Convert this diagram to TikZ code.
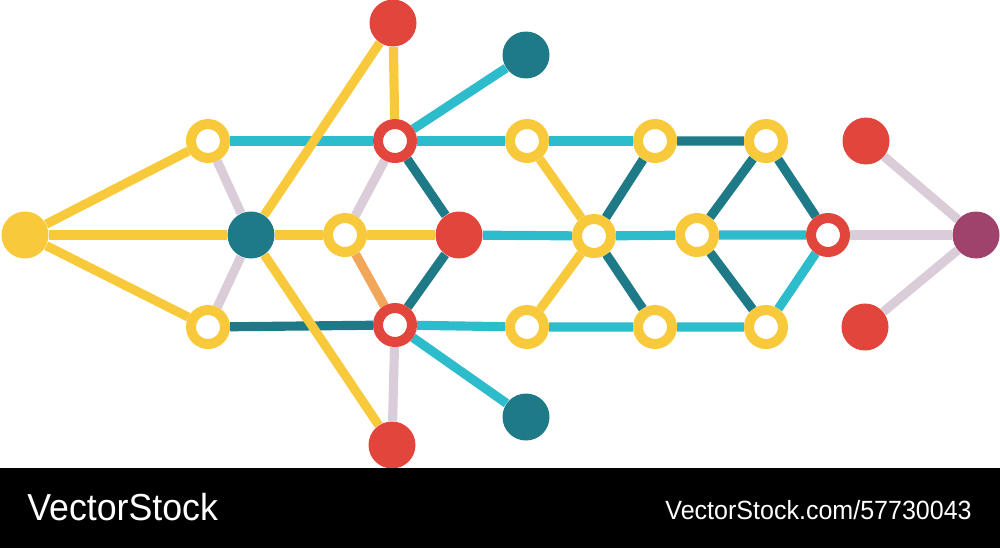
\documentclass[tikz,border=0pt]{standalone}
\usepackage{fontspec}
\newfontfamily\barfont[FakeStretch=0.95]{Liberation Sans}
\usetikzlibrary{backgrounds}
\definecolor{sun}{HTML}{F9C93C}
\definecolor{tomato}{HTML}{E2453B}
\definecolor{petrol}{HTML}{1E7A87}
\definecolor{aqua}{HTML}{2DBCCB}
\definecolor{lilac}{HTML}{DACCD8}
\definecolor{apricot}{HTML}{F2A65A}
\definecolor{plum}{HTML}{A0436C}
\begin{document}
\begin{tikzpicture}[x=0.02cm,y=-0.02cm,
  ring/.style={circle,draw=#1,line width=5.7pt,fill=white,minimum size=0.68cm,inner sep=0pt},
  dot/.style={circle,fill=#1,minimum size=0.94cm,inner sep=0pt},
  link/.style={line width=5.2pt,draw=#1}]
\useasboundingbox (0,0) rectangle (1000,548);
% nodes
\node[dot=sun] (start) at (25,235) {};
\node[ring=sun] (ua) at (208,141) {};
\node[ring=sun] (la) at (208,327) {};
\node[dot=petrol] (hub) at (251,235) {};
\node[ring=sun] (mid) at (345,235) {};
\node[dot=tomato] (topr) at (393,23) {};
\node[ring=tomato] (ur) at (395,141) {};
\node[ring=tomato] (lr) at (395,325) {};
\node[dot=tomato] (botr) at (392,445) {};
\node[dot=tomato] (cr) at (459,235) {};
\node[dot=petrol] (topt) at (526,55) {};
\node[dot=petrol] (bott) at (526,417) {};
\node[ring=sun] (ub) at (527,141) {};
\node[ring=sun] (uc) at (655,141) {};
\node[ring=sun] (ud) at (766,141) {};
\node[ring=sun] (cb) at (594,236) {};
\node[ring=sun] (cc) at (697,235) {};
\node[ring=sun] (lb) at (527,327) {};
\node[ring=sun] (lc) at (655,327) {};
\node[ring=sun] (ld) at (766,327) {};
\node[ring=tomato] (er) at (828,235) {};
\node[dot=tomato] (ue) at (866,141) {};
\node[dot=tomato] (le) at (865,327) {};
\node[dot=plum] (tip) at (976,235) {};
% links
\begin{pgfonlayer}{background}
\draw[link=lilac] (ua) -- (hub) -- (la);
\draw[link=lilac] (ur) -- (mid);
\draw[link=lilac] (lr) -- (botr);
\draw[link=lilac] (er) -- (tip);
\draw[link=lilac] (ue) -- (tip) -- (le);
\draw[link=apricot] (mid) -- (lr);
\draw[link=aqua] (ua) -- (ur) -- (ub) -- (uc);
\draw[link=aqua] (ur) -- (topt);
\draw[link=aqua] (lr) -- (bott);
\draw[link=aqua] (lr) -- (lb) -- (lc) -- (ld) -- (er);
\draw[link=aqua] (cr) -- (cb) -- (cc) -- (er);
\draw[link=petrol] (la) -- (lr) -- (cr) -- (ur);
\draw[link=petrol] (uc) -- (ud) -- (er);
\draw[link=petrol] (lc) -- (cb) -- (uc);
\draw[link=petrol] (ud) -- (cc) -- (ld);
\draw[link=sun] (ua) -- (start) -- (la);
\draw[link=sun] (start) -- (hub) -- (mid) -- (cr);
\draw[link=sun] (ub) -- (cb) -- (lb);
\draw[link=sun] (topr) -- (ur);
\draw[link=sun] (hub) -- (topr);
\draw[link=sun] (hub) -- (botr);
\end{pgfonlayer}
% bar
\fill[black] (0,468) rectangle (1000,548);
\node[anchor=base west,inner sep=0pt,text=white,font=\barfont\fontsize{21.4}{24}\selectfont] (brand) at (27,520) {VectorStock};
\node[anchor=base east,inner sep=0pt,text=white,font=\barfont\fontsize{15}{18}\selectfont] (ref) at (972,519) {VectorStock.com/57730043};
\end{tikzpicture}
\end{document}
